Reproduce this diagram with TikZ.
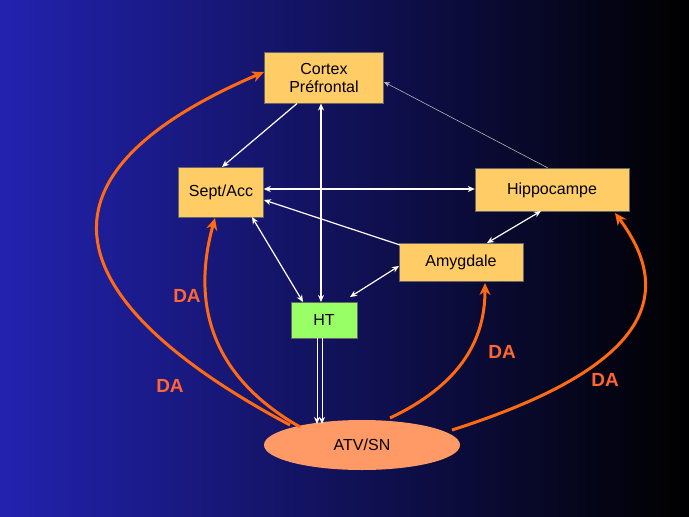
\documentclass[tikz,border=0pt]{standalone}
\usepackage{fontspec}
\setmainfont{Liberation Sans}
\usetikzlibrary{arrows.meta,shapes.geometric}
\definecolor{boxc}{HTML}{FFCC66}
\definecolor{htc}{HTML}{99FF66}
\definecolor{orc}{HTML}{FF6A13}
\definecolor{elc}{HTML}{FF9966}
\definecolor{dac}{HTML}{FF6633}
\definecolor{bgl}{HTML}{2222B0}
\begin{document}
\begin{tikzpicture}[x=1pt,y=-1pt,
  box/.style={draw=black!60,fill=boxc,font=\fontsize{16}{18}\selectfont,align=center,inner sep=0pt},
  wa/.style={draw=white,line width=1.2pt,-{Stealth[length=7pt,width=6pt]}},
  wb/.style={draw=white,line width=1.2pt,{Stealth[length=7pt,width=6pt]}-{Stealth[length=7pt,width=6pt]}},
  oa/.style={draw=orc,line width=3pt,-{Stealth[length=12pt,width=11pt]}},
  da/.style={text=dac,font=\fontsize{19}{21}\selectfont\bfseries}]
\shade[left color=bgl,right color=black] (0,0) rectangle (689,517);
\useasboundingbox (0,0) rectangle (689,517);
\node[box,minimum width=119pt,minimum height=51pt] (ctx) at (324,78) {Cortex\\Préfrontal};
\node[box,minimum width=85pt,minimum height=50pt] (sep) at (221,192) {Sept/Acc};
\node[box,minimum width=154pt,minimum height=43pt] (hip) at (552,190) {Hippocampe};
\node[box,minimum width=124pt,minimum height=38pt] (amy) at (461,262) {Amygdale};
\node[box,fill=htc,minimum width=66pt,minimum height=36pt] (ht) at (324,320) {HT};
\node[ellipse,fill=elc,minimum width=196pt,minimum height=50pt,inner sep=0pt,font=\fontsize{16}{18}\selectfont] (atv) at (362,445) {ATV/SN};
\coordinate (c1) at (297,103.5); \coordinate (s1) at (222,167);
\draw[wa] (c1) -- (s1);
\draw[wb] (321,103.5) coordinate (c2) -- (321,302) coordinate (h2);
\draw[draw=white!70!black,line width=0.6pt,-{Stealth[length=6pt,width=5pt]}] (548,168) coordinate (hp1) -- (384,82) coordinate (c3);
\draw[wb] (sep.east|-0,189) -- (hip.west|-0,189);
\draw[wa] (400,245) coordinate (a1) -- (264,200) coordinate (s2);
\draw[wb] (252,217) coordinate (s3) -- (303,302) coordinate (h3);
\draw[wb] (399,266) coordinate (a2) -- (350,297) coordinate (h4);
\draw[wb] (541,211) coordinate (hp2) -- (487,243) coordinate (a3);
\draw[draw=white,line width=0.8pt,-{Stealth[length=7pt,width=6pt]}] (317,338) -- (317,424);
\draw[draw=white,line width=0.8pt,-{Stealth[length=7pt,width=6pt]}] (322,338) -- (322,424);
\draw[oa] (290,425) .. controls (130,340) and (-35,200) .. (264,72);
\draw[oa] (300,427) .. controls (200,370) and (195,290) .. (215,218);
\draw[oa] (390,418) .. controls (470,380) and (485,330) .. (485,283);
\draw[oa] (452,430) .. controls (640,370) and (680,300) .. (615,213);
\node[da] (d1) at (187,296) {DA};
\node[da] (d2) at (170,386) {DA};
\node[da] (d3) at (502,352) {DA};
\node[da] (d4) at (605,380) {DA};
\end{tikzpicture}
\end{document}
